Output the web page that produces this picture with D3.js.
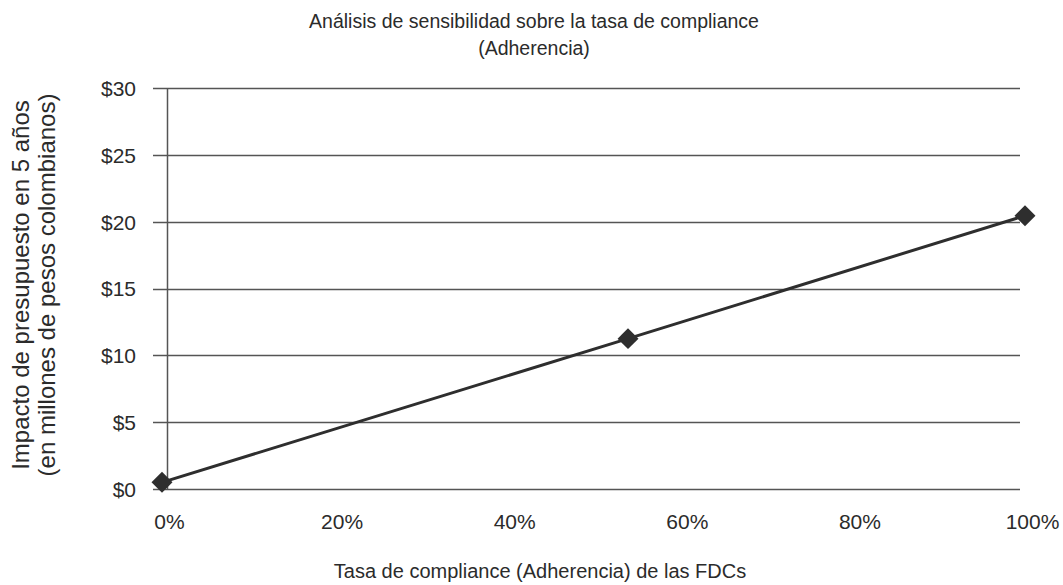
<!DOCTYPE html>
<html>
<head>
<meta charset="utf-8">
<script src="https://cdn.jsdelivr.net/npm/d3@7"></script>
<style>
  html, body { margin: 0; padding: 0; background: #fff; }
  svg { display: block; font-family: "Liberation Sans", Arial, sans-serif; }
</style>
</head>
<body>
<svg id="chart" width="1063" height="585"></svg>
<script>
// Compliance rate (share) and 5-year budget impact (millions of COP)
const complianceRates = [0.0, 0.54, 1.0];
const budgetImpact = [0.5, 11.25, 20.45];
const yTicks = [0, 5, 10, 15, 20, 25, 30];
const xTicks = [0, 0.2, 0.4, 0.6, 0.8, 1.0];
const titleLines = ["Análisis de sensibilidad sobre la tasa de compliance", "(Adherencia)"];
const xTitle = "Tasa de compliance (Adherencia) de las FDCs";
const yTitleLines = ["Impacto de presupuesto en 5 años", "(en millones de pesos colombianos)"];

const svg = d3.select("#chart");
const ink = "#2b2b2b";
const gridColor = "#555";

// plot frame
const plotLeft = 167, plotRight = 1020, plotTop = 88, plotBottom = 489, gridStart = 153;

const x = d3.scaleLinear().domain([0, 1]).range([162, 1025]);
const y = d3.scaleLinear().domain([0, 30]).range([plotBottom, plotTop]);

// y tick labels
const yg = svg.append("g").attr("transform", `translate(${gridStart},0)`).call(
  d3.axisLeft(y).tickValues(yTicks).tickSize(0).tickPadding(0).tickFormat(d => "$" + d)
);
yg.select(".domain").remove();
yg.selectAll(".tick line").remove();
yg.selectAll(".tick text")
  .attr("x", -17)
  .attr("dy", "0.35em")
  .attr("text-anchor", "end")
  .attr("fill", ink)
  .style("font-size", "21px");

// horizontal gridlines, starting a little left of the vertical axis
svg.append("g").selectAll("line").data(yTicks).join("line")
  .attr("x1", gridStart).attr("x2", plotRight)
  .attr("y1", d => Math.round(y(d)) + 0.5).attr("y2", d => Math.round(y(d)) + 0.5)
  .attr("stroke", gridColor).attr("stroke-width", 1.5);

// vertical axis line
svg.append("line")
  .attr("x1", plotLeft + 0.5).attr("x2", plotLeft + 0.5)
  .attr("y1", plotTop).attr("y2", plotBottom)
  .attr("stroke", gridColor).attr("stroke-width", 1.5);

// x tick labels
const xg = svg.append("g").attr("transform", `translate(0,${plotBottom})`).call(
  d3.axisBottom(x).tickValues(xTicks).tickSize(0).tickPadding(0).tickFormat(d3.format(".0%"))
);
xg.select(".domain").remove();
xg.selectAll(".tick text")
  .attr("x", 7)
  .attr("y", 40)
  .attr("dy", 0)
  .attr("fill", ink)
  .style("font-size", "21px");

// series line
const pts = complianceRates.map((c, i) => [c, budgetImpact[i]]);
svg.append("path")
  .datum(pts)
  .attr("fill", "none")
  .attr("stroke", "#2e2e2e")
  .attr("stroke-width", 3)
  .attr("d", d3.line().x(d => x(d[0])).y(d => y(d[1])));

// diamond markers
svg.append("g").selectAll("path").data(pts).join("path")
  .attr("transform", d => `translate(${x(d[0])},${y(d[1])})`)
  .attr("d", d3.symbol().type(d3.symbolDiamond2).size(280))
  .attr("fill", "#2e2e2e");

// chart title
svg.append("text")
  .attr("text-anchor", "middle").attr("fill", ink).style("font-size", "19.5px")
  .selectAll("tspan").data(titleLines).join("tspan")
  .attr("x", 534).attr("y", (d, i) => i === 0 ? 28 : 55).text(d => d);

// axis titles
svg.append("text")
  .attr("x", 540).attr("y", 578)
  .attr("text-anchor", "middle").attr("fill", ink).style("font-size", "20px")
  .text(xTitle);

svg.append("text")
  .attr("transform", "translate(0,285) rotate(-90)")
  .attr("text-anchor", "middle").attr("fill", ink).style("font-size", "24px")
  .selectAll("tspan").data(yTitleLines).join("tspan")
  .attr("x", 0).attr("y", (d, i) => i === 0 ? 29 : 55).text(d => d);
</script>
</body>
</html>
